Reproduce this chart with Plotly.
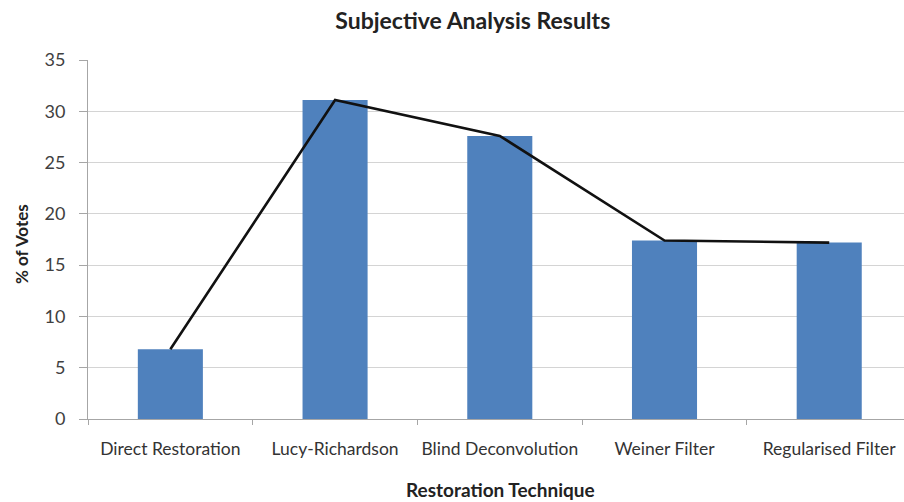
import plotly.graph_objects as go

techniques = ["Direct Restoration", "Lucy-Richardson", "Blind Deconvolution",
              "Weiner Filter", "Regularised Filter"]
votes_pct = [6.8, 31.1, 27.6, 17.4, 17.2]
y_ticks = [0, 5, 10, 15, 20, 25, 30, 35]

font_family = "Lato, 'Open Sans', sans-serif"

fig = go.Figure()
fig.add_trace(go.Bar(
    x=techniques, y=votes_pct, width=0.395,
    marker=dict(color="#4F81BD", line=dict(width=0)),
    showlegend=False, hoverinfo="x+y",
))
fig.add_trace(go.Scatter(
    x=techniques, y=votes_pct, mode="lines",
    line=dict(color="#111111", width=2.6),
    showlegend=False, hoverinfo="skip",
))

fig.update_layout(
    width=904, height=502,
    margin=dict(l=88, r=0, t=60, b=83, autoexpand=False),
    paper_bgcolor="white", plot_bgcolor="white",
    font=dict(family=font_family, size=17, color="#404040"),
    bargap=0.6,
    title=dict(text="<b>Subjective Analysis Results</b>", xref="container",
               x=0.523, xanchor="center", y=0.958, yanchor="middle",
               font=dict(size=23, color="#222222", family=font_family)),
    xaxis=dict(
        type="category", range=[-0.5, 4.454], automargin=False,
        showgrid=False, showline=True, linecolor="#a6a6a6", linewidth=1,
        ticks="outside", tickson="boundaries", ticklen=5, tickcolor="#a6a6a6",
        tickangle=0, ticklabelstandoff=14,
        tickfont=dict(size=17.5, color="#333333"),
    ),
    yaxis=dict(
        range=[0, 35], tickvals=y_ticks, automargin=False,
        showgrid=True, gridcolor="#d4d4d4", gridwidth=1,
        showline=True, linecolor="#a6a6a6", linewidth=1,
        ticks="outside", ticklen=8, tickcolor="#a6a6a6",
        ticklabelstandoff=10,
        tickfont=dict(size=18, color="#404040"),
        zeroline=False,
    ),
    annotations=[
        dict(text="<b>Restoration Technique</b>", xref="paper", yref="paper",
             x=(500 - 88) / (904 - 88), y=0, yshift=-70, showarrow=False,
             xanchor="center", yanchor="middle",
             font=dict(size=19, color="#222222")),
        dict(text="<b>% of Votes</b>", xref="paper", yref="paper",
             x=0, xshift=-66, y=(419 - 238) / (419 - 60), yshift=-6,
             showarrow=False, textangle=-90, xanchor="center", yanchor="middle",
             font=dict(size=17, color="#222222")),
    ],
)

fig.write_html("out.html")
